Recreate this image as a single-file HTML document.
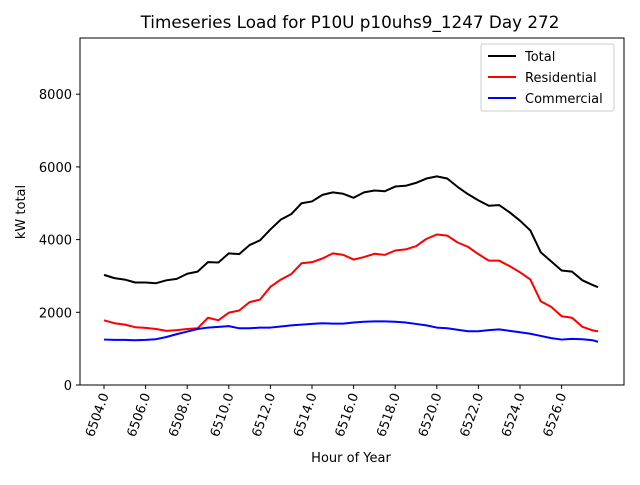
<!DOCTYPE html>
<html><head><meta charset="utf-8"><style>
body{margin:0;background:#fff}
svg{font-family:"DejaVu Sans","Liberation Sans",sans-serif}
</style></head><body>
<svg id="chart" width="640" height="480" viewBox="0 0 640 480">
<rect width="640" height="480" fill="#fff"/>
<text x="350" y="28" font-size="16.8" text-anchor="middle">Timeseries Load for P10U p10uhs9_1247  Day 272</text>
<g id="plot"></g>
<rect x="80" y="38" width="544" height="347" fill="none" stroke="#000" stroke-width="1"/>
<text x="351" y="462" font-size="13" text-anchor="middle">Hour of Year</text>
<text transform="translate(25,212) rotate(-90)" font-size="13" text-anchor="middle">kW total</text>
<g>
<rect x="481" y="44" width="133" height="67" fill="#fff" stroke="#ccc" rx="2"/>
<line x1="488" y1="56" x2="516" y2="56" stroke="#000" stroke-width="2"/>
<text x="525" y="61" font-size="13">Total</text>
<line x1="488" y1="77" x2="516" y2="77" stroke="red" stroke-width="2"/>
<text x="525" y="82" font-size="13">Residential</text>
<line x1="488" y1="98" x2="516" y2="98" stroke="blue" stroke-width="2"/>
<text x="525" y="103" font-size="13">Commercial</text>
</g>
</svg>
<script>
const hours=[6504,6504.5,6505,6505.5,6506,6506.5,6507,6507.5,6508,6508.5,6509,6509.5,6510,6510.5,6511,6511.5,6512,6512.5,6513,6513.5,6514,6514.5,6515,6515.5,6516,6516.5,6517,6517.5,6518,6518.5,6519,6519.5,6520,6520.5,6521,6521.5,6522,6522.5,6523,6523.5,6524,6524.5,6525,6525.5,6526,6526.5,6527,6527.5,6527.75];
const total=[3030,2940,2900,2820,2820,2800,2880,2920,3060,3120,3380,3370,3620,3600,3850,3980,4280,4550,4700,5000,5050,5230,5300,5260,5150,5300,5350,5330,5460,5480,5560,5680,5740,5680,5450,5250,5080,4930,4950,4750,4520,4250,3650,3400,3150,3120,2880,2750,2690];
const residential=[1780,1700,1660,1590,1570,1540,1490,1510,1540,1560,1850,1780,1990,2050,2280,2350,2700,2900,3050,3350,3380,3480,3620,3580,3450,3520,3610,3580,3700,3730,3820,4020,4140,4110,3920,3800,3600,3420,3420,3270,3100,2900,2300,2150,1890,1850,1600,1500,1480];
const commercial=[1250,1240,1240,1230,1240,1260,1320,1400,1470,1540,1580,1600,1620,1560,1560,1580,1580,1610,1640,1660,1680,1700,1690,1690,1720,1740,1750,1750,1740,1720,1680,1640,1580,1560,1520,1480,1480,1510,1530,1490,1450,1410,1350,1290,1250,1270,1260,1230,1190];
const xTicks=[6504,6506,6508,6510,6512,6514,6516,6518,6520,6522,6524,6526];
const yTicks=[0,2000,4000,6000,8000];
const NS="http://www.w3.org/2000/svg";
const X=h=>104+(h-6504)*20.8;
const Y=v=>385-v*(347/9546);
const g=document.getElementById('plot');
function mk(t,a){const e=document.createElementNS(NS,t);for(const k in a)e.setAttribute(k,a[k]);g.appendChild(e);return e;}
yTicks.forEach(v=>{
 const l=mk('line',{x1:76,x2:80,y1:Y(v),y2:Y(v),stroke:'#000'});
 
 
 const t=mk('text',{x:72,y:Y(v)+5,'font-size':13,'text-anchor':'end'});t.textContent=v;
 
 
});
xTicks.forEach(h=>{
 const x=X(h);
 const l=mk('line',{x1:x,x2:x,y1:385,y2:389,stroke:'#000'});
 
 
 const t=mk('text',{transform:`translate(${x+5},395) rotate(-70)`,'font-size':13,'text-anchor':'end'});t.textContent=h.toFixed(1);
 
 
});
function line(vals,color,name){
 const p=mk('polyline',{points:vals.map((v,i)=>X(hours[i])+','+Y(v)).join(' '),fill:'none',stroke:color,'stroke-width':2,'stroke-linejoin':'round'});
 
 
}
line(total,'#000','total-line');
line(residential,'red','residential-line');
line(commercial,'blue','commercial-line');
</script>
</body></html>
